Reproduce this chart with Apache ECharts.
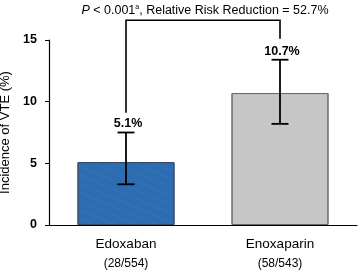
<!DOCTYPE html>
<html>
<head>
<meta charset="utf-8">
<script src="https://cdn.jsdelivr.net/npm/echarts@6/dist/echarts.min.js"></script>
<style>
  html, body { margin: 0; padding: 0; background: #fff; }
  #chart { width: 358px; height: 271px; }
</style>
</head>
<body>
<div id="chart"></div>
<script>
const categories = ["Edoxaban", "Enoxaparin"]
const counts = ["(28/554)", "(58/543)"]
const incidence = [5.1, 10.7]
const ciLow = [3.3, 8.2]
const ciHigh = [7.5, 13.4]
const pctLabels = ["5.1%", "10.7%"]
// bracket: top level, and where each leg stops (in % units)
const bracketTop = 16.6
const bracketLegEnd = [9.1, 15.1]
const yTicks = [0, 5, 10, 15]

const chart = echarts.init(document.getElementById("chart"))

const option = {
  animation: false,
  backgroundColor: "#fff",
  textStyle: { fontFamily: "Liberation Sans, Arial, sans-serif" },
  title: {
    text: "{i|P} < 0.001{sup|a}, Relative Risk Reduction = 52.7%",
    left: 200,
    textAlign: "center",
    top: -1,
    textStyle: {
      fontSize: 12.5,
      fontWeight: "normal",
      color: "#000",
      rich: {
        i: { fontStyle: "italic", fontSize: 12.5, color: "#000" },
        sup: { fontSize: 7, color: "#000", padding: [0, 0, 6, 0] },
      },
    },
  },
  grid: { left: 49, right: 1, top: 40, bottom: 46, outerBoundsMode: "none" },
  xAxis: {
    type: "category",
    data: categories,
    axisLine: { lineStyle: { color: "#000", width: 1.2 } },
    axisTick: { show: false },
    axisLabel: {
      color: "#000",
      fontSize: 13.5,
      margin: 10,
      lineHeight: 19,
      formatter: (v, i) => v + "\n{c|" + counts[i] + "}",
      rich: { c: { fontSize: 12, color: "#000" } },
    },
  },
  yAxis: {
    type: "value",
    min: 0,
    max: 15,
    interval: 5,
    name: "Incidence of VTE (%)",
    nameLocation: "middle",
    nameGap: 32,
    nameTextStyle: { color: "#000", fontSize: 13 },
    axisLine: { show: true, lineStyle: { color: "#000", width: 1.2 } },
    axisTick: { show: true, length: 4, lineStyle: { color: "#000" } },
    axisLabel: {
      color: "#000",
      fontSize: 12.5,
      fontWeight: "bold",
      margin: 12,
      formatter: (v) => (yTicks.includes(v) ? String(v) : ""),
    },
    splitLine: { show: false },
  },
  series: [
    {
      type: "bar",
      barWidth: 97,
      data: [
        {
          value: incidence[0],
          itemStyle: {
            color: "#2c6cb3",
            borderColor: "#3a4a66",
            borderWidth: 1,
            decal: {
              symbol: "circle",
              symbolSize: 0.4,
              color: "rgba(230,170,120,0.7)",
              dashArrayX: [[1, 0], [1, 0]],
              dashArrayY: 4,
              rotation: 0.4,
            },
          },
        },
        {
          value: incidence[1],
          itemStyle: {
            color: "#c6c6c6",
            borderColor: "#6a6a6a",
            borderWidth: 1,
            decal: {
              symbol: "circle",
              symbolSize: 0.35,
              color: "rgba(220,220,220,0.6)",
              dashArrayX: [[1, 0], [1, 0]],
              dashArrayY: 4,
              rotation: 0.4,
            },
          },
        },
      ],
    },
    {
      // error bars with value labels
      type: "custom",
      clip: false,
      z: 5,
      data: categories.map((c, i) => [i, ciLow[i], ciHigh[i]]),
      renderItem: (params, api) => {
        const lo = api.coord([api.value(0), api.value(1)])
        const hi = api.coord([api.value(0), api.value(2)])
        const half = 8.5
        const st = { stroke: "#000", lineWidth: 1.8 }
        return {
          type: "group",
          children: [
            { type: "line", shape: { x1: lo[0], y1: lo[1], x2: hi[0], y2: hi[1] }, style: st },
            { type: "line", shape: { x1: lo[0] - half, y1: lo[1], x2: lo[0] + half, y2: lo[1] }, style: st },
            { type: "line", shape: { x1: hi[0] - half, y1: hi[1], x2: hi[0] + half, y2: hi[1] }, style: st },
            {
              type: "text",
              style: {
                x: hi[0] + 2,
                y: hi[1] - 2,
                text: pctLabels[params.dataIndex],
                textAlign: "center",
                textVerticalAlign: "bottom",
                fontSize: 12.5,
                fontWeight: "bold",
                fontFamily: "Liberation Sans, Arial, sans-serif",
                fill: "#000",
              },
            },
          ],
        }
      },
    },
    {
      // significance bracket
      type: "custom",
      clip: false,
      z: 5,
      data: [[0, 1, bracketTop, bracketLegEnd[0], bracketLegEnd[1]]],
      renderItem: (params, api) => {
        const tl = api.coord([api.value(0), api.value(2)])
        const tr = api.coord([api.value(1), api.value(2)])
        const bl = api.coord([api.value(0), api.value(3)])
        const br = api.coord([api.value(1), api.value(4)])
        return {
          type: "polyline",
          shape: { points: [bl, tl, tr, br] },
          style: { stroke: "#000", lineWidth: 1.6, fill: null },
        }
      },
    },
  ],
}

chart.setOption(option)
</script>
</body>
</html>
